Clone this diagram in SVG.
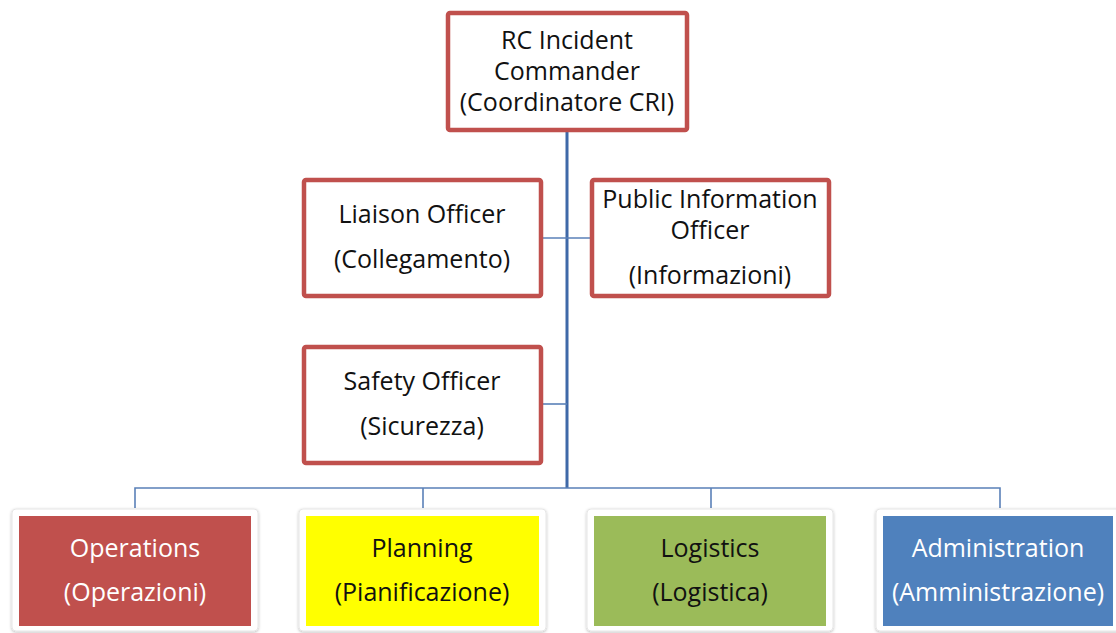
<svg xmlns="http://www.w3.org/2000/svg" width="1116" height="633" viewBox="0 0 1116 633">
  <style>
    text { font-family: "Open Sans", "Liberation Sans", sans-serif; font-size: 25px; text-anchor: middle; fill: #111; }
    .light { fill: #ffffff; }
    .officer { fill: #ffffff; stroke: #C0504D; stroke-width: 4.5; }
    .frame { fill: #ffffff; stroke: #e6e6e6; stroke-width: 1; }
    .trunk { stroke: #3F69A8; stroke-width: 3; fill: none; }
    .thin { stroke: #5A80B8; stroke-width: 1.6; fill: none; }
  </style>
  <defs>
    <filter id="shadow" x="-10%" y="-10%" width="120%" height="120%">
      <feDropShadow dx="0" dy="1" stdDeviation="1.5" flood-color="#000" flood-opacity="0.25"/>
    </filter>
  </defs>
  <rect width="1116" height="633" fill="#ffffff"/>

  <!-- connectors -->
  <g id="connectors">
    <line class="trunk" x1="567" y1="130" x2="567" y2="488"/>
    <line class="thin" x1="543" y1="238" x2="590" y2="238"/>
    <line class="thin" x1="543" y1="404" x2="567" y2="404"/>
    <polyline class="thin" points="135,508 135,488 1000,488 1000,508"/>
    <line class="thin" x1="423" y1="488" x2="423" y2="508"/>
    <line class="thin" x1="711" y1="488" x2="711" y2="508"/>
  </g>

  <g id="commander">
    <rect class="officer" x="448" y="13" width="239" height="117" rx="2"/>
    <text x="567" y="49">RC Incident</text>
    <text x="567" y="80">Commander</text>
    <text x="567" y="111">(Coordinatore CRI)</text>
  </g>

  <g id="liaison">
    <rect class="officer" x="304" y="180" width="237" height="116" rx="2"/>
    <text x="422" y="223">Liaison Officer</text>
    <text x="422" y="268">(Collegamento)</text>
  </g>

  <g id="public-info">
    <rect class="officer" x="592" y="180" width="237" height="116" rx="2"/>
    <text x="710" y="208">Public Information</text>
    <text x="710" y="239">Officer</text>
    <text x="710" y="284">(Informazioni)</text>
  </g>

  <g id="safety">
    <rect class="officer" x="304" y="347" width="237" height="116" rx="2"/>
    <text x="422" y="390">Safety Officer</text>
    <text x="422" y="435">(Sicurezza)</text>
  </g>

  <g id="operations">
    <rect class="frame" x="12" y="509" width="246" height="122" rx="4" filter="url(#shadow)"/>
    <rect x="19" y="516" width="232" height="110" fill="#C0504D"/>
    <text class="light" x="135" y="557">Operations</text>
    <text class="light" x="135" y="601">(Operazioni)</text>
  </g>

  <g id="planning">
    <rect class="frame" x="299" y="509" width="247" height="122" rx="4" filter="url(#shadow)"/>
    <rect x="306" y="516" width="233" height="110" fill="#FFFF00"/>
    <text x="422" y="557">Planning</text>
    <text x="422" y="601">(Pianificazione)</text>
  </g>

  <g id="logistics">
    <rect class="frame" x="587" y="509" width="246" height="122" rx="4" filter="url(#shadow)"/>
    <rect x="594" y="516" width="232" height="110" fill="#9BBB59"/>
    <text x="710" y="557">Logistics</text>
    <text x="710" y="601">(Logistica)</text>
  </g>

  <g id="administration">
    <rect class="frame" x="876" y="509" width="246" height="122" rx="4" filter="url(#shadow)"/>
    <rect x="883" y="516" width="230" height="110" fill="#4F81BD"/>
    <text class="light" x="998" y="557">Administration</text>
    <text class="light" x="998" y="601">(Amministrazione)</text>
  </g>
</svg>
